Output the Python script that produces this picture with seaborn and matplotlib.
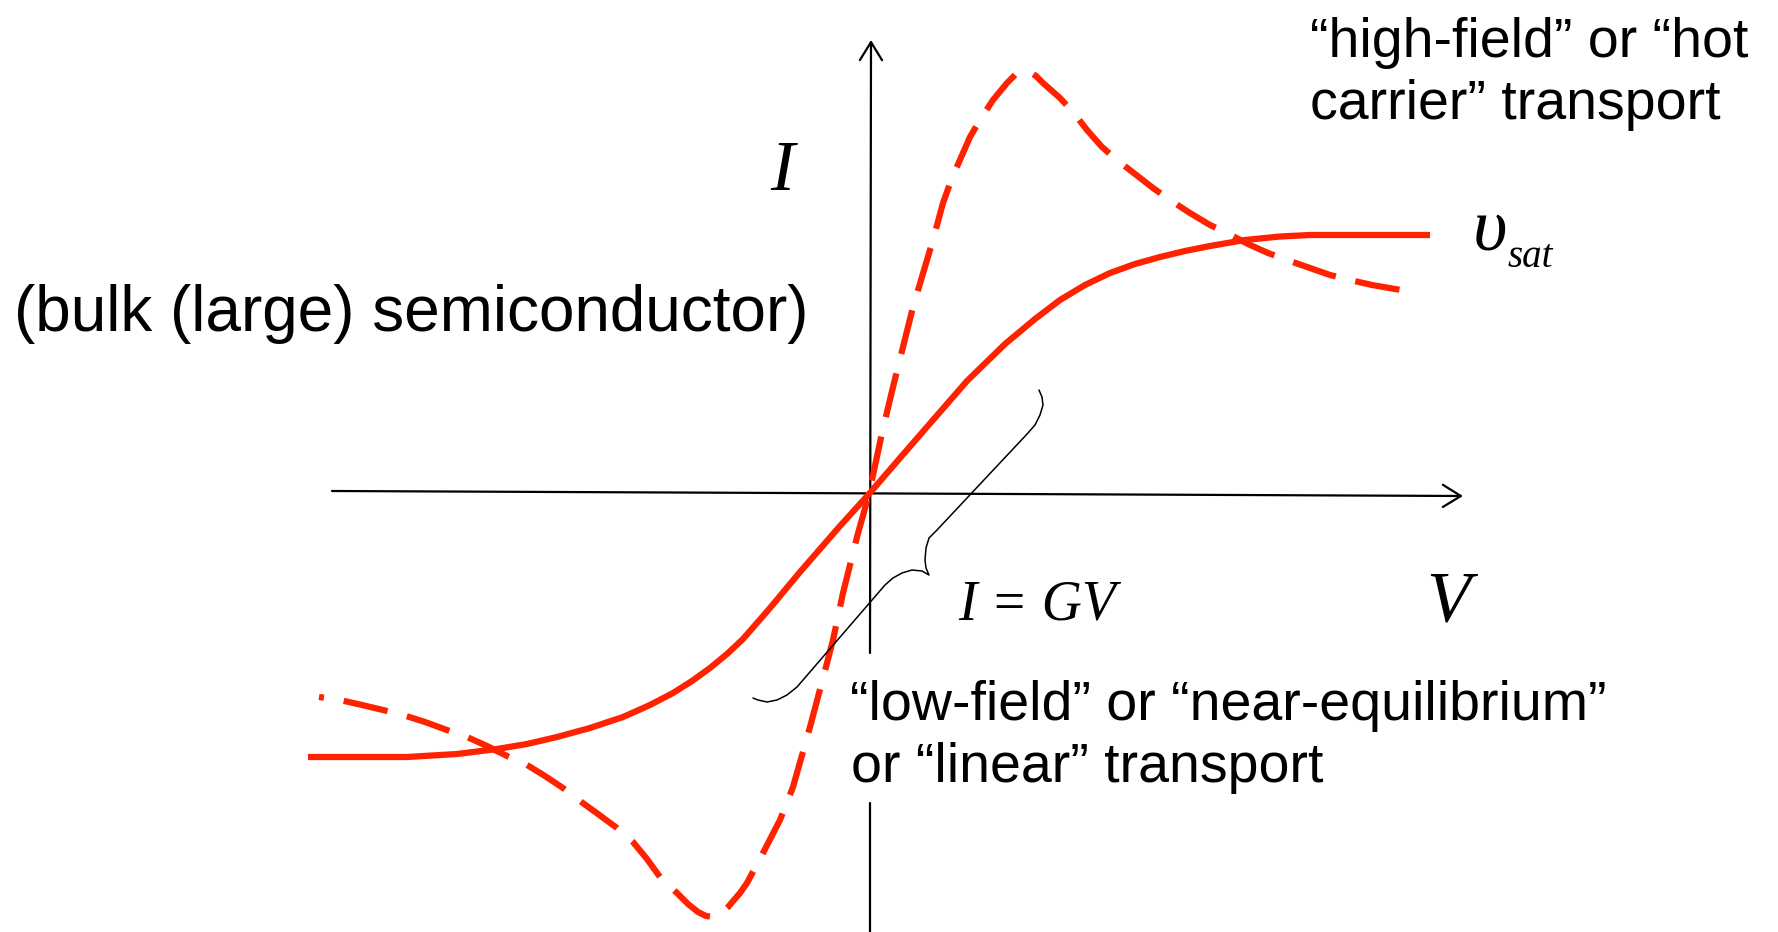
import matplotlib
matplotlib.use("Agg")
import matplotlib.pyplot as plt
import seaborn as sns

# I-V curves (V, I in arbitrary units, origin at the crossing)
solid_v = [-5.61, -5.09, -4.62, -4.12, -3.72, -3.42, -3.12, -2.79, -2.46, -2.19, -1.96, -1.77,
           -1.59, -1.42, -1.26, -0.99, -0.69, -0.29, 0.00, 0.31, 0.64, 0.98, 1.36, 1.66, 1.91,
           2.16, 2.41, 2.66, 2.91, 3.16, 3.41, 3.76, 4.11, 4.41, 5.01, 5.61]
solid_i = [-2.63, -2.63, -2.63, -2.60, -2.55, -2.50, -2.43, -2.34, -2.23, -2.11, -1.99, -1.87,
           -1.74, -1.60, -1.45, -1.14, -0.78, -0.32, 0.00, 0.36, 0.74, 1.13, 1.50, 1.75, 1.94,
           2.09, 2.21, 2.30, 2.37, 2.43, 2.48, 2.54, 2.575, 2.59, 2.59, 2.59]

dash_v = [-5.50, -5.29, -5.07, -4.86, -4.66, -4.44, -4.22, -4.02, -3.82, -3.62, -3.42, -3.24,
          -3.06, -2.89, -2.71, -2.52, -2.36, -2.22, -2.09, -1.92, -1.81, -1.71, -1.63, -1.56,
          -1.49, -1.41, -1.29, -1.22, -1.06, -0.89, -0.76, -0.59, -0.42, -0.36, -0.26, -0.12,
          0.00, 0.13, 0.24, 0.44, 0.58, 0.64, 0.74, 0.83, 1.01, 1.11, 1.24, 1.38, 1.47, 1.55,
          1.61, 1.67, 1.74, 1.91, 2.04, 2.18, 2.33, 2.48, 2.66, 2.84, 3.01, 3.21, 3.41, 3.58,
          3.79, 3.99, 4.18, 4.41, 4.61, 4.81, 5.03, 5.26, 5.46]
dash_i = [-2.03, -2.06, -2.11, -2.16, -2.21, -2.28, -2.36, -2.43, -2.52, -2.62, -2.71, -2.82,
          -2.94, -3.07, -3.20, -3.34, -3.48, -3.65, -3.83, -3.99, -4.10, -4.18, -4.22, -4.23,
          -4.20, -4.13, -3.99, -3.89, -3.59, -3.26, -2.93, -2.33, -1.69, -1.46, -0.99, -0.43,
          0.00, 0.61, 1.07, 1.87, 2.34, 2.54, 2.91, 3.16, 3.57, 3.74, 3.94, 4.11, 4.20, 4.23,
          4.22, 4.18, 4.11, 3.96, 3.82, 3.64, 3.47, 3.34, 3.20, 3.06, 2.94, 2.81, 2.69, 2.61,
          2.50, 2.41, 2.34, 2.26, 2.19, 2.14, 2.09, 2.05, 2.02]

# curly brace marking the linear region
brace_v = [1.70, 1.73, 1.74, 1.71, 1.66, 1.59, 0.68, 0.60, 0.57, 0.56, 0.57, 0.60,
           0.53, 0.43, 0.33, 0.24, 0.16, -0.72, -0.82, -0.92, -1.02, -1.11, -1.16]
brace_i = [1.04, 0.97, 0.89, 0.79, 0.69, 0.61, -0.36, -0.44, -0.54, -0.66, -0.74, -0.81,
           -0.77, -0.76, -0.79, -0.84, -0.91, -1.93, -2.01, -2.06, -2.08, -2.06, -2.04]

red = "#ff2200"

sns.set_style("white")
sans = ["Liberation Sans", "DejaVu Sans"]
serif = ["Liberation Serif", "DejaVu Serif"]

fig = plt.figure(figsize=(17.78, 9.32), dpi=100)
ax = fig.add_axes([0, 0, 1, 1])
ax.set_xlim(-8.69, 9.09)
ax.set_ylim(-4.38, 4.94)
ax.set_axis_off()

# axes with open arrow heads
arrow = dict(arrowstyle="->,head_length=0.65,head_width=0.4", lw=1.6, color="black",
             mutation_scale=20, shrinkA=0, shrinkB=0)
ax.annotate("", xy=(5.94, -0.02), xytext=(-5.37, 0.03), arrowprops=arrow)
ax.annotate("", xy=(0.02, 4.54), xytext=(0.01, -1.59), arrowprops=arrow)
ax.plot([0.01, 0.01], [-3.09, -4.5], color="black", lw=1.6)

# curves (estimator=None keeps the points in drawing order, no aggregation)
sns.lineplot(x=solid_v, y=solid_i, sort=False, estimator=None, color=red, lw=4.5, ax=ax,
             zorder=3, solid_joinstyle="round", solid_capstyle="butt")
sns.lineplot(x=dash_v, y=dash_i, sort=False, estimator=None, color=red, lw=4.5, ax=ax,
             zorder=3, dash_joinstyle="round", dash_capstyle="butt")
ax.lines[-1].set_linestyle((6.4, (7.2, 3.2)))
sns.lineplot(x=brace_v, y=brace_i, sort=False, estimator=None, color="black", lw=1.1, ax=ax,
             zorder=4, solid_joinstyle="round")

# labels
ax.text(-0.87, 3.04, "I", family=serif, style="italic", fontsize=52, color="black",
        ha="center", va="baseline")
ax.text(5.79, -1.26, "V", family=serif, style="italic", fontsize=52, color="black",
        ha="center", va="baseline")
ax.text(1.68, -1.26, "I = GV", family=serif, style="italic", fontsize=40, color="black",
        ha="center", va="baseline")
ax.text(6.21, 2.44, "υ", family=serif, style="italic", fontsize=54, color="black",
        ha="center", va="baseline")
ax.text(6.39, 2.27, "sat", family=serif, style="italic", fontsize=28, color="black",
        ha="left", va="baseline")

ax.text(4.41, 4.37, "“high-field” or “hot", family=sans, fontsize=40, color="black",
        ha="left", va="baseline")
ax.text(4.41, 3.75, "carrier” transport", family=sans, fontsize=40, color="black",
        ha="left", va="baseline")
ax.text(-8.55, 1.63, "(bulk (large) semiconductor)", family=sans, fontsize=46, color="black",
        ha="left", va="baseline")
ax.text(-0.19, -2.26, "“low-field” or “near-equilibrium”", family=sans, fontsize=40,
        color="black", ha="left", va="baseline")
ax.text(-0.18, -2.88, "or “linear” transport", family=sans, fontsize=40, color="black",
        ha="left", va="baseline")

fig.savefig("out.png", dpi=100, facecolor="white")
